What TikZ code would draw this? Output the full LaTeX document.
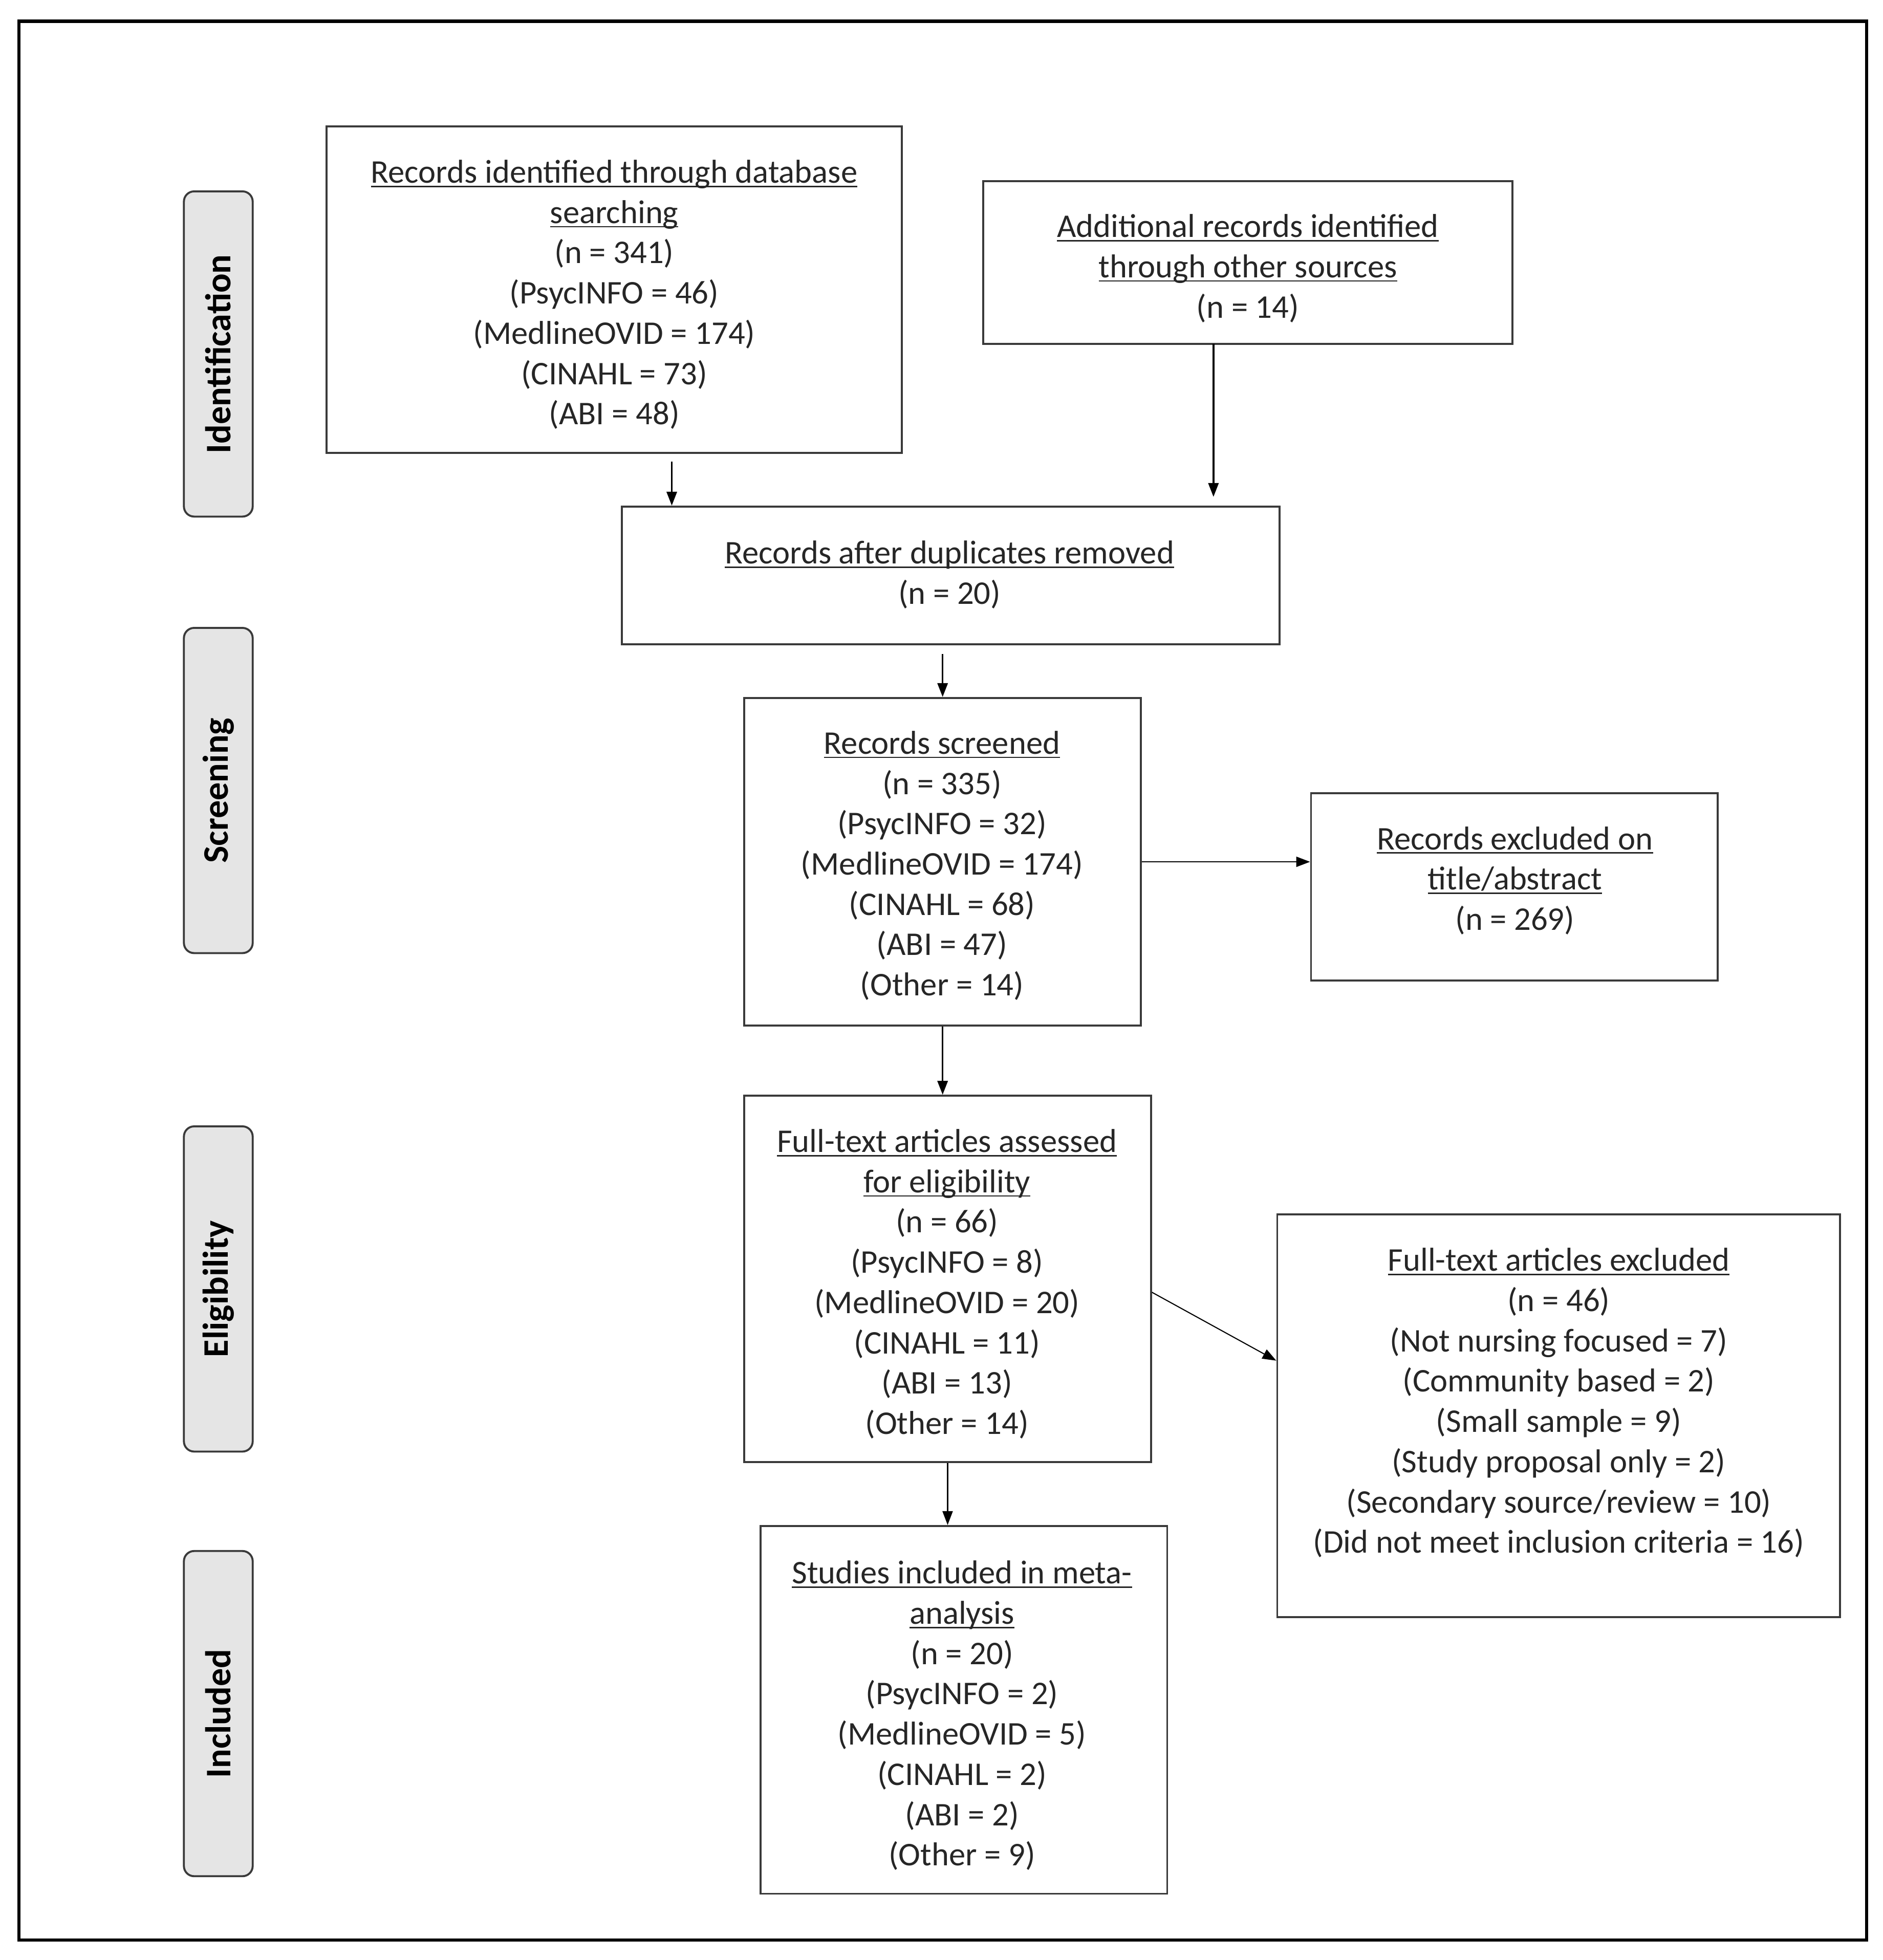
\documentclass[tikz,border=0pt]{standalone}
\usepackage{fontspec}
\setmainfont{Carlito}
\usetikzlibrary{arrows.meta}
\definecolor{textc}{HTML}{262626}
\definecolor{boxc}{HTML}{3A3A3A}
\definecolor{phasec}{HTML}{E5E5E5}
\newcommand{\myul}[1]{\setbox0\hbox{#1}\rlap{\rule[-2.3pt]{\wd0}{0.8pt}}\box0}
\def\pu{0.024445cm}
% [style]{x1}{y1}{x2}{y2}{name}
\newcommand{\mybox}[6][]{%
  \node[boxstyle,#1, minimum width={(#4-#2)*\pu}, minimum height={(#5-#3)*\pu}] (#6) at ({(#2+#4)/2},{(#3+#5)/2}) {};}
\begin{document}
\begin{tikzpicture}[x=0.024445cm, y=-0.024445cm,
  boxstyle/.style={draw=boxc, line width=1.1pt, inner sep=0pt},
  phase/.style={draw=boxc, fill=phasec, line width=1.1pt, rounded corners=0.2cm, inner sep=0pt,
     rotate=90, minimum width={260*\pu}, minimum height={55*\pu},
     font=\fontsize{20}{24}\selectfont\bfseries, text=black},
  txt/.style={align=center, inner sep=0pt, text=textc, font=\fontsize{18.4}{22.4}\selectfont, yshift=-0.05cm},
  arr/.style={-{Triangle[length=0.27cm,width=0.2cm]}, line width=1pt, draw=black},
  thinarr/.style={-{Triangle[length=0.27cm,width=0.2cm]}, line width=0.6pt, draw=black}]
\useasboundingbox (0,0) rectangle (1505,1567);
\fill[white] (0,0) rectangle (1505,1567);
% outer frame
\draw[line width=1.8pt, black] (15,17) rectangle (1492,1551);

% phase labels
\node[phase] (idn) at (174.5,283) {Identification};
\node[phase] (scrn) at (174.5,632) {Screening};
\node[phase] (elig) at (174.5,1030.5) {Eligibility};
\node[phase] (incl) at (174.5,1370) {Included};

% boxes
\mybox{261}{101}{721}{362}{db}
\mybox{786}{145}{1209}{275}{other}
\mybox{497}{405}{1023}{515}{dup}
\mybox{595}{558}{912}{820}{scr}
\mybox{1048}{634}{1373}{784}{exa}
\mybox{595}{876}{920}{1169}{full}
\mybox{1021}{971}{1471}{1293}{exb}
\mybox{608}{1220}{933}{1514}{inc}

% texts
\node[txt] (dbT) at (491,233.5) {\myul{Records identified through database}\\\myul{searching}\\(n = 341)\\(PsycINFO = 46)\\(MedlineOVID = 174)\\(CINAHL = 73)\\(ABI = 48)};
\node[txt] (otherT) at (997.5,212.5) {\myul{Additional records identified}\\\myul{through other sources}\\(n = 14)};
\node[txt] (dupT) at (759,457.5) {\myul{Records after duplicates removed}\\(n = 20)};
\node[txt] (scrT) at (753,690) {\myul{Records screened}\\(n = 335)\\(PsycINFO = 32)\\(MedlineOVID = 174)\\(CINAHL = 68)\\(ABI = 47)\\(Other = 14)};
\node[txt] (exaT) at (1211,702) {\myul{Records excluded on}\\\myul{title/abstract}\\(n = 269)};
\node[txt] (fullT) at (757,1024.5) {\myul{Full-text articles assessed}\\\myul{for eligibility}\\(n = 66)\\(PsycINFO = 8)\\(MedlineOVID = 20)\\(CINAHL = 11)\\(ABI = 13)\\(Other = 14)};
\node[txt] (exbT) at (1246,1119.5) {\myul{Full-text articles excluded}\\(n = 46)\\(Not nursing focused = 7)\\(Community based = 2)\\(Small sample = 9)\\(Study proposal only = 2)\\(Secondary source/review = 10)\\(Did not meet inclusion criteria = 16)};
\node[txt] (incT) at (769,1369.5) {\myul{Studies included in meta-}\\\myul{analysis}\\(n = 20)\\(PsycINFO = 2)\\(MedlineOVID = 5)\\(CINAHL = 2)\\(ABI = 2)\\(Other = 9)};

% connectors
\coordinate (a1) at (537,369);
\draw[arr] (a1) -- (a1 |- dup.north);
\coordinate (a2) at (970,275);
\draw[arr] (a2) -- ([yshift=0.17cm]a2 |- dup.north);
\draw[arr] ([yshift=-0.17cm]dup.south -| scr.north) -- (scr.north);
\draw[arr] (scr.south) -- (scr.south |- full.north);
\draw[thinarr] (scr.east) -- (scr.east -| exa.west);
\draw[thinarr] ([yshift=-0.26cm]full.east) -- ([yshift=1.08cm]exb.west);
\draw[thinarr] (full.south) -- (full.south |- inc.north);
\end{tikzpicture}
\end{document}
